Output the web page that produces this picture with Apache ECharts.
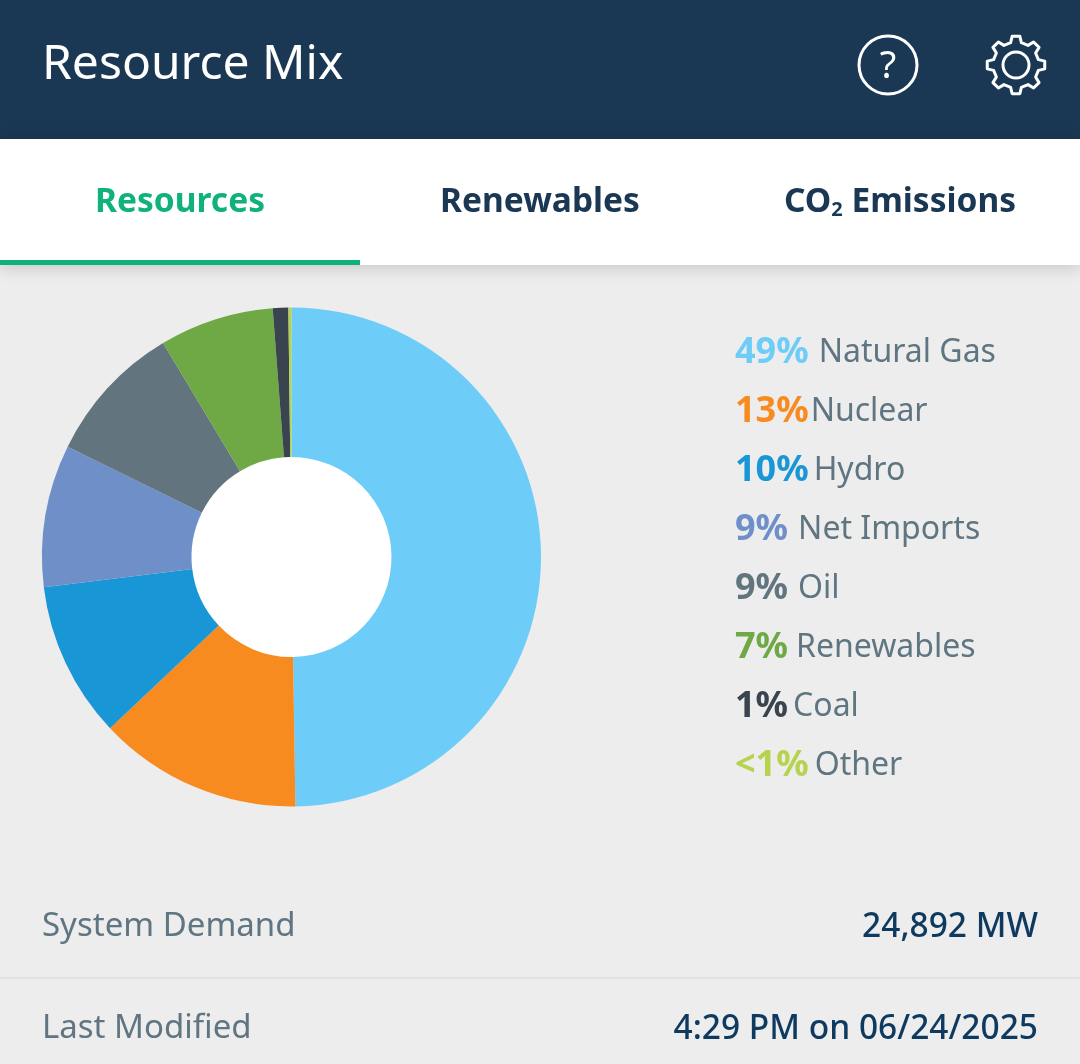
<!DOCTYPE html>
<html>
<head>
<meta charset="utf-8">
<title>Resource Mix</title>
<style>
  html, body { margin: 0; padding: 0; background: #ededed; }
  #chart { width: 1080px; height: 1064px; }
</style>
<script src="https://cdn.jsdelivr.net/npm/echarts@6/dist/echarts.min.js"></script>
</head>
<body>
<div id="chart"></div>
<script>
// data
const resources = ['Natural Gas', 'Nuclear', 'Hydro', 'Net Imports', 'Oil', 'Renewables', 'Coal', 'Other'];
const shares = [49.7, 13.2, 10.1, 9.2, 9.1, 7.4, 1.0, 0.2];
const shareLabels = ['49%', '13%', '10%', '9%', '9%', '7%', '1%', '<1%'];
const tabs = ['Resources', 'Renewables'];
const demandValue = '24,892 MW';
const modifiedValue = '4:29 PM on 06/24/2025';

const palette = ['#6dcdf8', '#f78b20', '#1996d6', '#6f8fc8', '#62757f', '#6fa945', '#3a444e', '#b5d34f'];
const nameGaps = [10, 2, 5, 10, 10, 8, 5, 6];
const FONT = '"Noto Sans", "Open Sans", sans-serif';
const NAVY = '#1a3853';
const GREEN = '#10b27c';
const GREY = '#5f7581';
const DEEP = '#0f3a5f';

// 齿轮图标
function gearPoints(cx, cy, teeth, rOut, rIn) {
  const points = [];
  const step = Math.PI * 2 / teeth;
  for (let i = 0; i < teeth; i++) {
    const a = i * step - Math.PI / 2;
    [[rIn, a - step * 0.30], [rOut, a - step * 0.17], [rOut, a + step * 0.17], [rIn, a + step * 0.30]].forEach(p => {
      points.push([cx + p[0] * Math.cos(p[1]), cy + p[0] * Math.sin(p[1])]);
    });
  }
  return points;
}

function label(x, y, text, size, color, weight, align) {
  return {
    type: 'text', x: x, y: y, z: 5, silent: true,
    style: {
      text: text, fill: color, font: (weight || 400) + ' ' + size + 'px ' + FONT,
      textAlign: align || 'left', textVerticalAlign: 'middle'
    }
  };
}

const legendRich = {};
palette.forEach((c, i) => {
  legendRich['p' + i] = { color: c, fontFamily: FONT, fontSize: 36, fontWeight: 700 };
  legendRich['n' + i] = { color: GREY, fontFamily: FONT, fontSize: 32, fontWeight: 400, padding: [0, 0, 0, nameGaps[i]] };
});

const chart = echarts.init(document.getElementById('chart'));
chart.setOption({
  animation: false,
  backgroundColor: '#ededed',
  legend: {
    orient: 'vertical',
    left: 735,
    top: 330,
    icon: 'none',
    itemWidth: 0,
    itemHeight: 46,
    itemGap: 18,
    padding: 0,
    selectedMode: false,
    data: resources,
    formatter: function (name) {
      const i = resources.indexOf(name);
      return '{p' + i + '|' + shareLabels[i] + '}{n' + i + '|' + name + '}';
    },
    textStyle: { rich: legendRich, padding: [0, 0, 0, -5] }
  },
  series: [{
    type: 'pie',
    center: [291.5, 557],
    radius: [100, 249.5],
    startAngle: 90,
    silent: true,
    z: 2,
    label: { show: false },
    labelLine: { show: false },
    data: resources.map((name, i) => ({
      name: name, value: shares[i], itemStyle: { color: palette[i] }
    }))
  }],
  graphic: [
    { type: 'circle', silent: true, z: 1, shape: { cx: 291.5, cy: 557, r: 101 }, style: { fill: '#fff' } },
    { type: 'rect', silent: true, z: 1, shape: { x: 0, y: 0, width: 1080, height: 139 }, style: { fill: NAVY } },
    {
      type: 'rect', silent: true, z: 1,
      shape: { x: 0, y: 139, width: 1080, height: 126 },
      style: { fill: '#fff', shadowBlur: 16, shadowColor: 'rgba(0,0,0,0.16)', shadowOffsetY: 3 }
    },
    { type: 'rect', silent: true, z: 4, shape: { x: 0, y: 260, width: 360, height: 5 }, style: { fill: GREEN } },
    { type: 'line', silent: true, z: 4, shape: { x1: 0, y1: 978, x2: 1080, y2: 978 }, style: { stroke: '#e2e2e2', lineWidth: 2 } },
    label(42, 65, 'Resource Mix', 48, '#fff'),
    { type: 'circle', silent: true, z: 5, shape: { cx: 888, cy: 65, r: 29 }, style: { fill: 'none', stroke: '#fff', lineWidth: 3 } },
    label(888, 67, '?', 38, '#fff', 400, 'center'),
    { type: 'polygon', silent: true, z: 5, shape: { points: gearPoints(1016, 65, 8, 29, 23) }, style: { fill: 'none', stroke: '#fff', lineWidth: 3, lineJoin: 'round' } },
    { type: 'circle', silent: true, z: 5, shape: { cx: 1016, cy: 65, r: 13 }, style: { fill: 'none', stroke: '#fff', lineWidth: 3 } },
    label(180, 202, tabs[0], 33.5, GREEN, 700, 'center'),
    label(540, 202, tabs[1], 33.5, NAVY, 700, 'center'),
    {
      type: 'text', silent: true, z: 5, x: 900, y: 202,
      style: {
        text: '{a|CO}{s|2}{a| Emissions}', textAlign: 'center', textVerticalAlign: 'middle',
        rich: {
          a: { fill: NAVY, font: '700 33.5px ' + FONT },
          s: { fill: NAVY, font: '700 20px ' + FONT, padding: [16, 0, 0, 0] }
        }
      }
    },
    label(42, 927, 'System Demand', 33, GREY),
    label(1038, 927, demandValue, 33.5, DEEP, 500, 'right'),
    label(42, 1029, 'Last Modified', 33, GREY),
    label(1038, 1029, modifiedValue, 33.5, DEEP, 500, 'right')
  ]
});
</script>
</body>
</html>
